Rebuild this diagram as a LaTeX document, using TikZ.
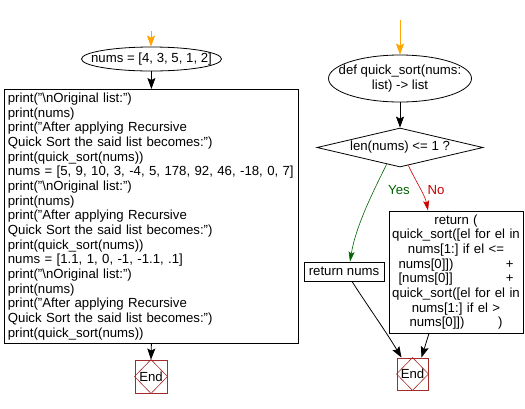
\documentclass[tikz,border=0pt]{standalone}
\usepackage{fontspec}
\setmainfont{Liberation Sans}
\usetikzlibrary{arrows.meta,shapes.geometric,calc}
\definecolor{startor}{HTML}{FFA500}
\definecolor{endred}{HTML}{A52A2A}
\definecolor{yesgreen}{HTML}{006400}
\definecolor{nored}{HTML}{CC0000}
\tikzset{
  base/.style={draw=black, line width=0.8pt, inner sep=0pt},
  ell/.style={base, ellipse},
  boxnode/.style={base, rectangle},
  dia/.style={base, diamond},
  endnode/.style={draw=endred, line width=0.9pt, rectangle, inner sep=0pt, minimum width=32pt, minimum height=33pt},
  arr/.style={line width=0.8pt, -{Stealth[length=11pt,width=8pt,inset=2pt]}},
  thinarr/.style={line width=0.6pt, -{Stealth[length=10pt,width=6pt,inset=2pt]}},
}
\begin{document}
\begin{tikzpicture}[x=1pt,y=-1pt,font=\fontsize{13.2}{14.65}\selectfont\frenchspacing]
\useasboundingbox (0,0) rectangle (525,408);
% left column
\coordinate (s1) at (151,31);
\node[ell, minimum width=140pt, minimum height=24pt] (n1) at (151.5,59) {\makebox[0pt]{nums = [4, 3, 5, 1, 2]}};
\node[boxnode, anchor=north west, minimum width=294pt, minimum height=254pt, text width=287pt, inner xsep=3.5pt, align=left] (box1) at (4,89) {print("\textbackslash nOriginal list:")\\
print(nums)\\
print("After applying Recursive\\
Quick Sort the said list becomes:")\\
print(quick\_sort(nums))\\
nums = [5, 9, 10, 3, -4, 5, 178, 92, 46, -18, 0, 7]\\
print("\textbackslash nOriginal list:")\\
print(nums)\\
print("After applying Recursive\\
Quick Sort the said list becomes:")\\
print(quick\_sort(nums))\\
nums = [1.1, 1, 0, -1, -1.1, .1]\\
print("\textbackslash nOriginal list:")\\
print(nums)\\
print("After applying Recursive\\
Quick Sort the said list becomes:")\\
print(quick\_sort(nums))};
\node[endnode] (end1) at (151,376.5) {End};
\draw[endred, line width=0.6pt] (end1.north) -- (end1.east) -- (end1.south) -- (end1.west) -- cycle;
\draw[arr, startor] (s1) -- (n1.north -| s1);
\draw[arr] (n1.south -| box1.north) -- (box1.north);
\draw[arr] (box1.south) -- (end1.north);
% right column
\coordinate (s2) at (400,20);
\node[ell, minimum width=143pt, minimum height=47pt, align=center] (f1) at (400,78.5) {\makebox[0pt]{def quick\_sort(nums:}\\\makebox[0pt]{list) -> list}};
\node[dia, minimum width=166pt, minimum height=39pt] (d1) at (400,147.5) {\makebox[0pt]{len(nums) <= 1 ?}};
\node[boxnode, minimum width=80pt, minimum height=19pt] (rn) at (344,271.5) {return nums};
\node[boxnode, minimum width=134pt, minimum height=122pt, text width=128pt, align=center] (rt) at (456,272) {return (\\
quick\_sort([el for el in\\
nums[1:] if el <=\\
\makebox[115pt]{nums[0]])\hfill+}\\
\makebox[115pt]{[nums[0]]\hfill+}\\
quick\_sort([el for el in\\
nums[1:] if el >\\
\makebox[93pt]{nums[0]])\hfill)}};
\node[endnode, minimum width=31pt, minimum height=32pt] (end2) at (412.5,374) {End};
\draw[endred, line width=0.6pt] (end2.north) -- (end2.east) -- (end2.south) -- (end2.west) -- cycle;
\draw[arr, startor] (s2) -- (f1.north);
\draw[arr] (f1.south) -- (d1.north);
\draw[thinarr, yesgreen] ($(d1.south)!0.16!(d1.west)$) .. controls (374,190) and (356,225) .. ($(rn.north)+(6,0)$);
\draw[thinarr, nored] ($(d1.south)!0.10!(d1.east)$) .. controls (415,180) and (425,195) .. ($(rt.north)+(-28,0)$);
\node[text=yesgreen] (yes) at (399,190) {Yes};
\node[text=nored] (no) at (436,190) {No};
\draw[arr] ($(rn.south)+(8,0)$) .. controls (365,302) and (385,330) .. ($(end2.north)+(-11,0)$);
\draw[arr] ($(rt.south)+(-27,0)$) -- ($(end2.north)+(9,0)$);
\end{tikzpicture}
\end{document}
